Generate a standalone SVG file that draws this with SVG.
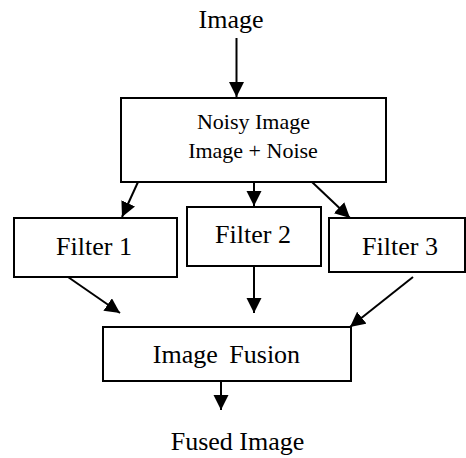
<svg xmlns="http://www.w3.org/2000/svg" width="466" height="458" viewBox="0 0 466 458">
<defs>
<marker id="ah" markerWidth="16" markerHeight="16" refX="15" refY="7.5" orient="auto" markerUnits="userSpaceOnUse">
<path d="M0,0 L15,7.5 L0,15 Z" fill="#000"/>
</marker>
<style>
.box{fill:#fff;stroke:#000;stroke-width:2}
.t{font-family:"Liberation Serif","Times New Roman",serif;fill:#000;text-anchor:middle}
.big{font-size:26px}
.small{font-size:22px}
.c{stroke:#000;stroke-width:2;fill:none;marker-end:url(#ah)}
</style>
</defs>
<rect width="466" height="458" fill="#fff"/>
<g id="input"><text class="t big" x="231" y="28">Image</text></g>
<g id="noisy">
<rect class="box" x="121" y="98" width="265" height="84"/>
<text class="t small" x="253.5" y="129">Noisy Image</text>
<text class="t small" x="253" y="158">Image + Noise</text>
</g>
<g id="filter1">
<rect class="box" x="14" y="218" width="163" height="59"/>
<text class="t big" x="94" y="255">Filter 1</text>
</g>
<g id="filter2">
<rect class="box" x="187" y="207" width="134" height="59"/>
<text class="t big" x="253" y="243">Filter 2</text>
</g>
<g id="filter3">
<rect class="box" x="329" y="218" width="136" height="54"/>
<text class="t big" x="400" y="255">Filter 3</text>
</g>
<g id="fusion">
<rect class="box" x="103" y="327" width="248" height="54"/>
<text class="t big" x="226.5" y="363" word-spacing="5">Image Fusion</text>
</g>
<g id="output"><text class="t big" x="237.5" y="450">Fused Image</text></g>
<g id="connectors">
<line class="c" x1="236.5" y1="38" x2="236.5" y2="97"/>
<line class="c" x1="138" y1="182" x2="122" y2="217"/>
<line class="c" x1="254" y1="182" x2="254" y2="206"/>
<line class="c" x1="312" y1="182" x2="350" y2="218"/>
<line class="c" x1="68" y1="277" x2="120" y2="313"/>
<line class="c" x1="254" y1="266" x2="254" y2="313"/>
<line class="c" x1="413" y1="277" x2="350" y2="327"/>
<line class="c" x1="221" y1="381" x2="221" y2="410"/>
</g>
</svg>
